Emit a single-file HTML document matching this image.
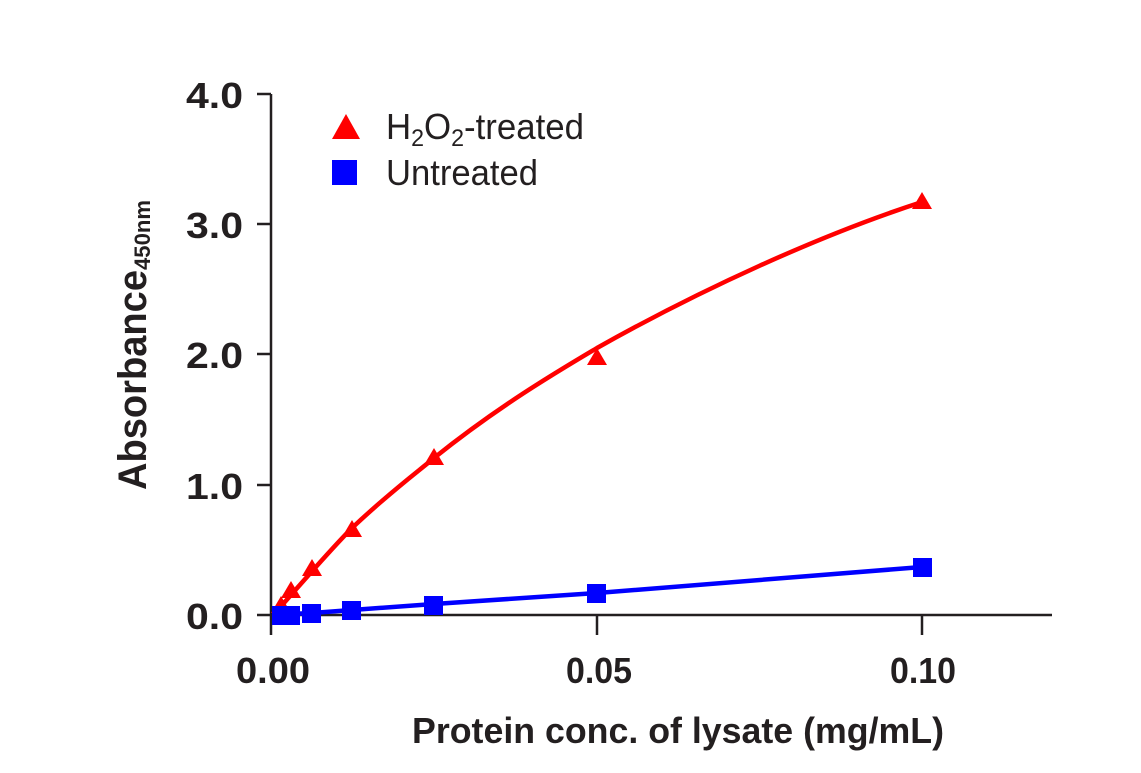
<!DOCTYPE html>
<html><head><meta charset="utf-8"><style>
html,body{margin:0;padding:0;background:#fff;}
svg text{font-family:"Liberation Sans Narrow","Liberation Sans",sans-serif;fill:#231f20;}
</style></head><body>
<svg width="1141" height="768" viewBox="0 0 1141 768" xmlns="http://www.w3.org/2000/svg">
<g stroke="#231f20" stroke-width="2.5" fill="none">
<line x1="271" y1="94" x2="271" y2="635"/>
<line x1="257" y1="615" x2="1052" y2="615"/>
<line x1="257" y1="94" x2="271" y2="94"/>
<line x1="257" y1="224" x2="271" y2="224"/>
<line x1="257" y1="354" x2="271" y2="354"/>
<line x1="257" y1="485" x2="271" y2="485"/>
<line x1="597" y1="615" x2="597" y2="635"/>
<line x1="922" y1="615" x2="922" y2="635"/>
</g>
<g font-size="36" font-weight="bold">
<text x="186" y="108" textLength="57" lengthAdjust="spacingAndGlyphs">4.0</text>
<text x="186" y="238" textLength="57" lengthAdjust="spacingAndGlyphs">3.0</text>
<text x="186" y="368" textLength="57" lengthAdjust="spacingAndGlyphs">2.0</text>
<text x="186" y="499" textLength="57" lengthAdjust="spacingAndGlyphs">1.0</text>
<text x="186" y="629" textLength="57" lengthAdjust="spacingAndGlyphs">0.0</text>
<text x="236" y="683" textLength="74" lengthAdjust="spacingAndGlyphs">0.00</text>
<text x="566" y="683" textLength="66" lengthAdjust="spacingAndGlyphs">0.05</text>
<text x="890" y="683" textLength="66" lengthAdjust="spacingAndGlyphs">0.10</text>
<text x="412" y="743" textLength="532" lengthAdjust="spacingAndGlyphs">Protein conc. of lysate (mg/mL)</text>
</g>
<text transform="translate(146,490) rotate(-90)" font-size="40" font-weight="bold" textLength="220" lengthAdjust="spacingAndGlyphs">Absorbance</text>
<text transform="translate(150,270) rotate(-90)" font-size="22" font-weight="bold" textLength="70" lengthAdjust="spacingAndGlyphs">450nm</text>
<path d="M276 612 C300 585 330 550 352 528 C390 492 420 470 434 458 C500 405 560 370 597 348 C700 290 820 235 922 202" stroke="#f00" stroke-width="4.5" fill="none"/>
<polyline points="278,615 291,614 312,613 352,610 434,604 597,593 922,567" stroke="#00f" stroke-width="4.5" fill="none"/>
<g fill="#f00">
<polygon points="922,192 912,209 932,209"/>
<polygon points="597,348 587,365 607,365"/>
<polygon points="434,448 424,465 444,465"/>
<polygon points="352,520 342,537 362,537"/>
<polygon points="312,559 302,576 322,576"/>
<polygon points="291,581 281,598 301,598"/>
<polygon points="281,596 271,613 291,613"/>
</g>
<g fill="#00f">
<rect x="913" y="558" width="19" height="19"/>
<rect x="587" y="584" width="19" height="19"/>
<rect x="424" y="596" width="19" height="19"/>
<rect x="342" y="601" width="19" height="19"/>
<rect x="302" y="604" width="19" height="19"/>
<rect x="281" y="606" width="19" height="19"/>
<rect x="272" y="606" width="19" height="19"/>
</g>
<polygon points="346,114 332,139 360,139" fill="#f00"/>
<rect x="332" y="160" width="25" height="25" fill="#00f"/>
<g font-size="36">
<text x="386" y="139" textLength="198" lengthAdjust="spacingAndGlyphs">H<tspan font-size="24" dy="7">2</tspan><tspan dy="-7">O</tspan><tspan font-size="24" dy="7">2</tspan><tspan dy="-7">-treated</tspan></text>
<text x="386" y="185" textLength="152" lengthAdjust="spacingAndGlyphs">Untreated</text>
</g>
</svg>
</body></html>
